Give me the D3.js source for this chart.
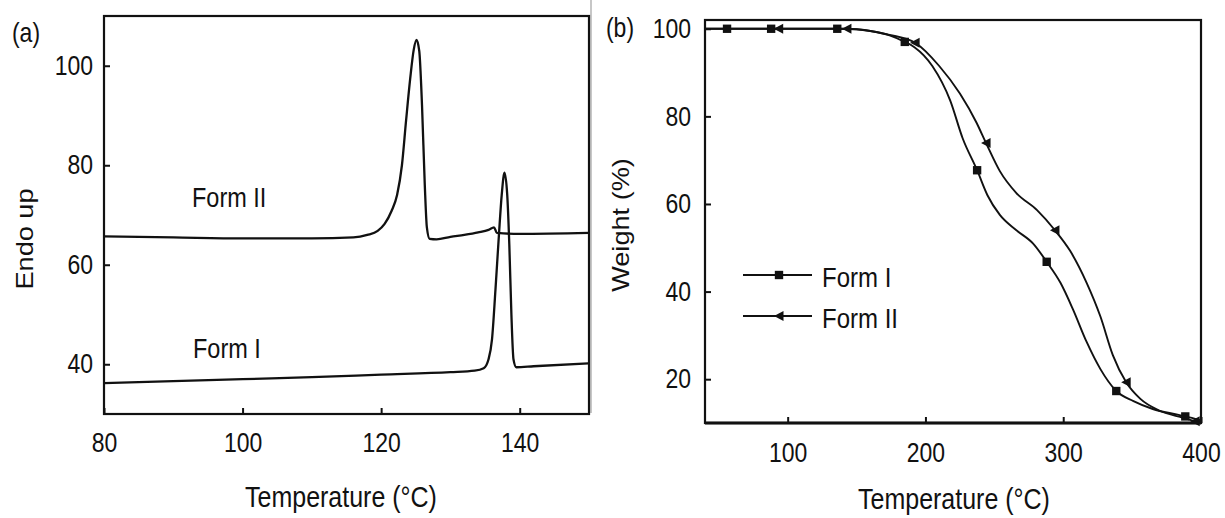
<!DOCTYPE html>
<html lang="en">
<head>
<meta charset="utf-8">
<title>DSC and TGA</title>
<script src="https://cdnjs.cloudflare.com/ajax/libs/d3/7.8.5/d3.min.js"></script>
<style>
  body { margin: 0; background: #fff; }
  text { font-family: "Liberation Sans", Arial, sans-serif; fill: #111; }
  .frame { fill: none; stroke: #111; stroke-width: 2.2px; }
  .axis line { stroke: #111; stroke-width: 2px; }
  .axis path { display: none; }
  .curve { fill: none; stroke: #111; }
</style>
</head>
<body>
<div id="chart"></div>
<script>
// ---- panel (a) DSC: [temperature, heat flow] ----
var dscFormII = [[80,65.7],[90,65.5],[100,65.3],[110,65.3],[116,65.5],[118,66.0],[119.5,66.8],[120.5,68.2],
  [121.5,70.8],[122.3,74],[123,80],[123.6,89],[124.2,97.5],[124.7,103.2],[125.1,105.2],[125.5,103],
  [125.9,92],[126.3,76],[126.6,67.5],[127,65.2],[128,65.1],[130,65.6],[132,66.0],[134,66.5],
  [135.5,67.0],[136.3,67.5],[136.7,66.4],[140,66.2],[150,66.4]];
var dscFormI = [[80,36.2],[90,36.6],[100,37.0],[110,37.4],[120,37.9],[130,38.4],[133.5,38.7],[134.8,39.2],
  [135.5,41],[136,45],[136.5,55],[137,66],[137.4,74],[137.8,78.5],[138.2,74],[138.5,64],[138.8,50],
  [139.1,41],[139.5,39.4],[142,39.6],[150,40.2]];
var dscXTicks = [80, 100, 120, 140];
var dscYTicks = [40, 60, 80, 100];

// ---- panel (b) TGA: [temperature, weight %] ----
var tgaFormI = [[40,100],[56,100],[88,100],[136,100],[150,99.9],[160,99.5],[174,98.5],[185,97.0],[192,95.8],
  [205,91.5],[218,83.6],[227,75],[237.5,67.7],[245,62],[254,57.5],[266,54],[278,51],[288,46.8],
  [298,42],[307,36],[317,28.5],[327,22.3],[338.5,17.3],[351,15],[365,13.2],[383,11.9],[388.6,11.5],[400,10.6]];
var tgaFormII = [[40,100],[93.5,100],[143,100],[150,99.9],[160,99.5],[174,98.6],[192.5,96.8],[210,91.5],
  [225,85.2],[237,78.6],[244,73.9],[254,67.5],[266,62.5],[281,58.6],[294,54],[305,49.3],[317,42],
  [327,34.3],[336,25.5],[345.7,19.3],[356,15.5],[370,12.8],[387,11.2],[395.8,10.4],[400,10.2]];
var tgaFormIMarks = [[56,100],[88,100],[136,100],[185,97.0],[237.5,67.7],[288,46.8],[338.5,17.3],[388.6,11.5]];
var tgaFormIIMarks = [[93.5,100],[143,100],[192.5,96.8],[244,73.9],[294,54],[345.7,19.3],[395.8,10.4]];
var tgaXTicks = [100, 200, 300, 400];
var tgaYTicks = [20, 40, 60, 80, 100];
var legendNames = ["Form I", "Form II"];

var W = 1225, H = 518, SY = 1.18, FS = 23;

var svg = d3.select("#chart").append("svg").attr("width", W).attr("height", H);

// stretched label helper, (x,y) = visual centre
function label(x, y, str, anchor, rot, size) {
  var g = svg.append("g")
    .attr("transform", "translate(" + x + "," + y + ") scale(1," + SY + ")" + (rot ? " rotate(-90)" : ""));
  g.append("text").attr("text-anchor", anchor || "start").attr("dy", "0.35em")
    .attr("font-size", size || FS).text(str);
}

// separator between panels
svg.append("line").attr("x1", 591).attr("x2", 591).attr("y1", 0).attr("y2", 413)
  .attr("stroke", "#b5b5b5").attr("stroke-width", 1.5);

// ===== panel (a) =====
var xa = d3.scaleLinear().domain([80, 150]).range([104, 589]);
var ya = d3.scaleLinear().domain([30, 110]).range([414, 16]);

svg.append("g").attr("class", "axis").attr("transform", "translate(104,0)")
  .call(d3.axisLeft(ya).tickValues(dscYTicks).tickSize(-6).tickPadding(11))
  .selectAll("text").attr("font-size", FS).attr("fill", "#111").attr("transform", "scale(1," + SY + ")");
svg.append("g").attr("class", "axis").attr("transform", "translate(0,414)")
  .call(d3.axisBottom(xa).tickValues(dscXTicks).tickSize(-6).tickPadding(16))
  .selectAll("text").attr("font-size", FS).attr("fill", "#111").attr("transform", "scale(1," + SY + ")");

var lineA = d3.line().x(function(d){ return xa(d[0]); }).y(function(d){ return ya(d[1]); })
  .curve(d3.curveMonotoneX);
svg.append("path").datum(dscFormII).attr("class", "curve").attr("stroke-width", 2.3).attr("d", lineA);
svg.append("path").datum(dscFormI).attr("class", "curve").attr("stroke-width", 2.3).attr("d", lineA);

svg.append("rect").attr("class", "frame")
  .attr("x", xa(80)).attr("y", ya(110)).attr("width", xa(150) - xa(80)).attr("height", ya(30) - ya(110));

label(26, 32, "(a)", "middle");
label(25, 239, "Endo up", "middle", true);
label(192, 197, "Form II", "start", false, 23.5);
label(193, 348, "Form I", "start", false, 23.5);
label(341, 497, "Temperature (\u00B0C)", "middle", false, 25);

// ===== panel (b) =====
var xb = d3.scaleLinear().domain([40, 400]).range([705, 1201]);
var yb = d3.scaleLinear().domain([10, 102]).range([423, 20]);

svg.append("g").attr("class", "axis").attr("transform", "translate(705,0)")
  .call(d3.axisLeft(yb).tickValues(tgaYTicks).tickSize(-6).tickPadding(14))
  .selectAll("text").attr("font-size", FS).attr("fill", "#111").attr("transform", "scale(1," + SY + ")");
svg.append("g").attr("class", "axis").attr("transform", "translate(0,423)")
  .call(d3.axisBottom(xb).tickValues(tgaXTicks).tickSize(-6).tickPadding(17))
  .selectAll("text").attr("font-size", FS).attr("fill", "#111").attr("transform", "scale(1," + SY + ")");

var lineB = d3.line().x(function(d){ return xb(d[0]); }).y(function(d){ return yb(d[1]); })
  .curve(d3.curveMonotoneX);
svg.append("path").datum(tgaFormI).attr("class", "curve").attr("stroke-width", 1.9).attr("d", lineB);
svg.append("path").datum(tgaFormII).attr("class", "curve").attr("stroke-width", 1.9).attr("d", lineB);

var sq = d3.symbol().type(d3.symbolSquare).size(70);
var tri = "M-5,0L4.5,-5L4.5,5Z";   // left-pointing triangle
svg.selectAll(".mk1").data(tgaFormIMarks).enter().append("path").attr("class", "mk1")
  .attr("transform", function(d){ return "translate(" + xb(d[0]) + "," + yb(d[1]) + ")"; })
  .attr("d", sq).attr("fill", "#111");
svg.selectAll(".mk2").data(tgaFormIIMarks).enter().append("path").attr("class", "mk2")
  .attr("transform", function(d){ return "translate(" + xb(d[0]) + "," + yb(d[1]) + ")"; })
  .attr("d", tri).attr("fill", "#111");

svg.append("rect").attr("class", "frame")
  .attr("x", xb(40)).attr("y", yb(102)).attr("width", xb(400) - xb(40)).attr("height", yb(10) - yb(102));
svg.append("line").attr("x1", xb(40)).attr("x2", xb(400)).attr("y1", yb(10)).attr("y2", yb(10))
  .attr("stroke", "#111").attr("stroke-width", 3);

// legend
var legY = [275, 316];
legendNames.forEach(function(name, i) {
  svg.append("line").attr("x1", 743).attr("x2", 812).attr("y1", legY[i]).attr("y2", legY[i])
    .attr("stroke", "#111").attr("stroke-width", 1.9);
  svg.append("path").attr("transform", "translate(779," + legY[i] + ")")
    .attr("d", i === 0 ? sq : tri).attr("fill", "#111");
  label(822, legY[i] + 2, name, "start", false, 24);
});

label(620, 27, "(b)", "middle");
label(621, 225, "Weight (%)", "middle", true);
label(954, 499, "Temperature (\u00B0C)", "middle", false, 25);
</script>
</body>
</html>
